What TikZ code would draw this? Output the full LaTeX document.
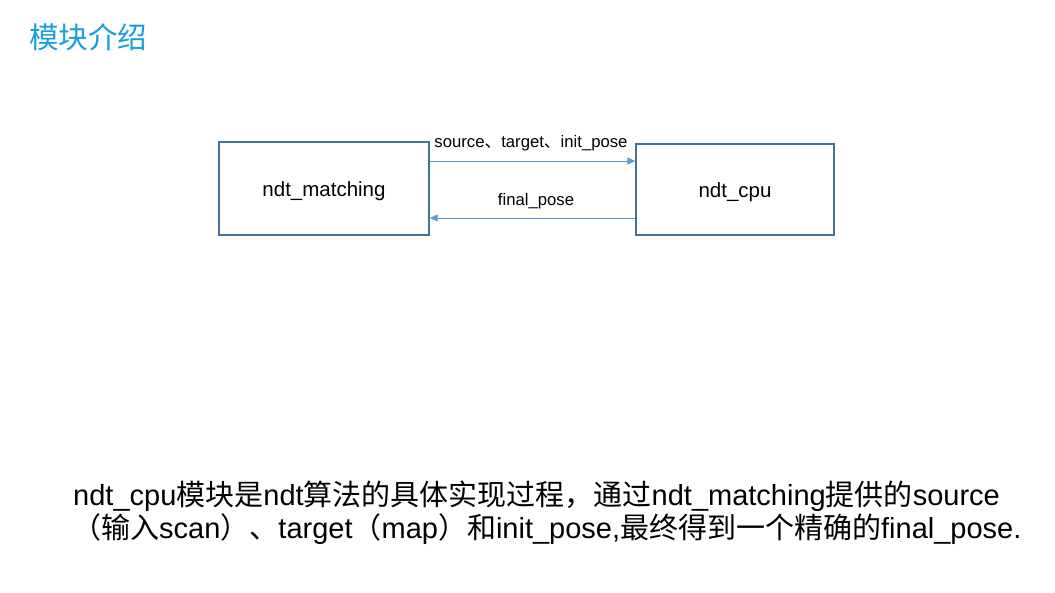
\documentclass[tikz,border=0pt]{standalone}
\usepackage{fontspec}
\setmainfont{Liberation Sans}
\newfontfamily\cjk{Noto Sans CJK SC}
\usetikzlibrary{arrows.meta}
\definecolor{boxline}{HTML}{41719C}
\definecolor{flowblue}{HTML}{5B9BD5}
\definecolor{titleblue}{HTML}{1C9DDE}
\tikzset{
  modbox/.style={draw=boxline, line width=1.4pt, rectangle, inner sep=0pt,
    font=\fontsize{20.5}{24}\selectfont, text height=16pt, text depth=0pt},
  flow/.style={draw=flowblue, line width=1pt, -{Triangle[length=8pt,width=7pt]}},
  lbl/.style={font=\fontsize{16.7}{20}\selectfont, inner sep=0pt, anchor=base},
  body/.style={font=\fontsize{29}{33}\selectfont, inner sep=0pt, anchor=base west}
}
\begin{document}
\begin{tikzpicture}[x=1pt,y=-1pt]
\useasboundingbox (0,0) rectangle (1055,592);
\fill[white] (0,0) rectangle (1055,592);
% title
\node[inner sep=0pt, anchor=base west, text=titleblue, font=\cjk\fontsize{29.5}{33}\selectfont] (title) at (29,48) {模块介绍};
% boxes
\node[modbox, minimum width=210pt, minimum height=93pt] (m) at (324,188.5) {ndt\_matching};
\node[modbox, minimum width=198pt, minimum height=91pt] (c) at (735,189.5) {ndt\_cpu};
% arrows
\draw[flow] ([yshift=27.5pt]m.east) -- ([yshift=27.5pt]m.east -| c.west);
\draw[flow] ([yshift=-29.5pt]m.east -| c.west) -- ([yshift=-29.5pt]m.east);
\node[lbl] (l1) at (531,147) {source{\cjk 、}target{\cjk 、}init\_pose};
\node[lbl] (l2) at (536,205) {final\_pose};
% description
\node[body] (t1) at (73,505) {ndt\_cpu{\cjk 模块是}ndt{\cjk 算法的具体实现过程，通过}ndt\_matching{\cjk 提供的}source};
\node[body] (t2) at (72,538) {{\cjk （输入}scan{\cjk ）、}target{\cjk （}map{\cjk ）和}init\_pose,{\cjk 最终得到一个精确的}final\_pose.};
\end{tikzpicture}
\end{document}
